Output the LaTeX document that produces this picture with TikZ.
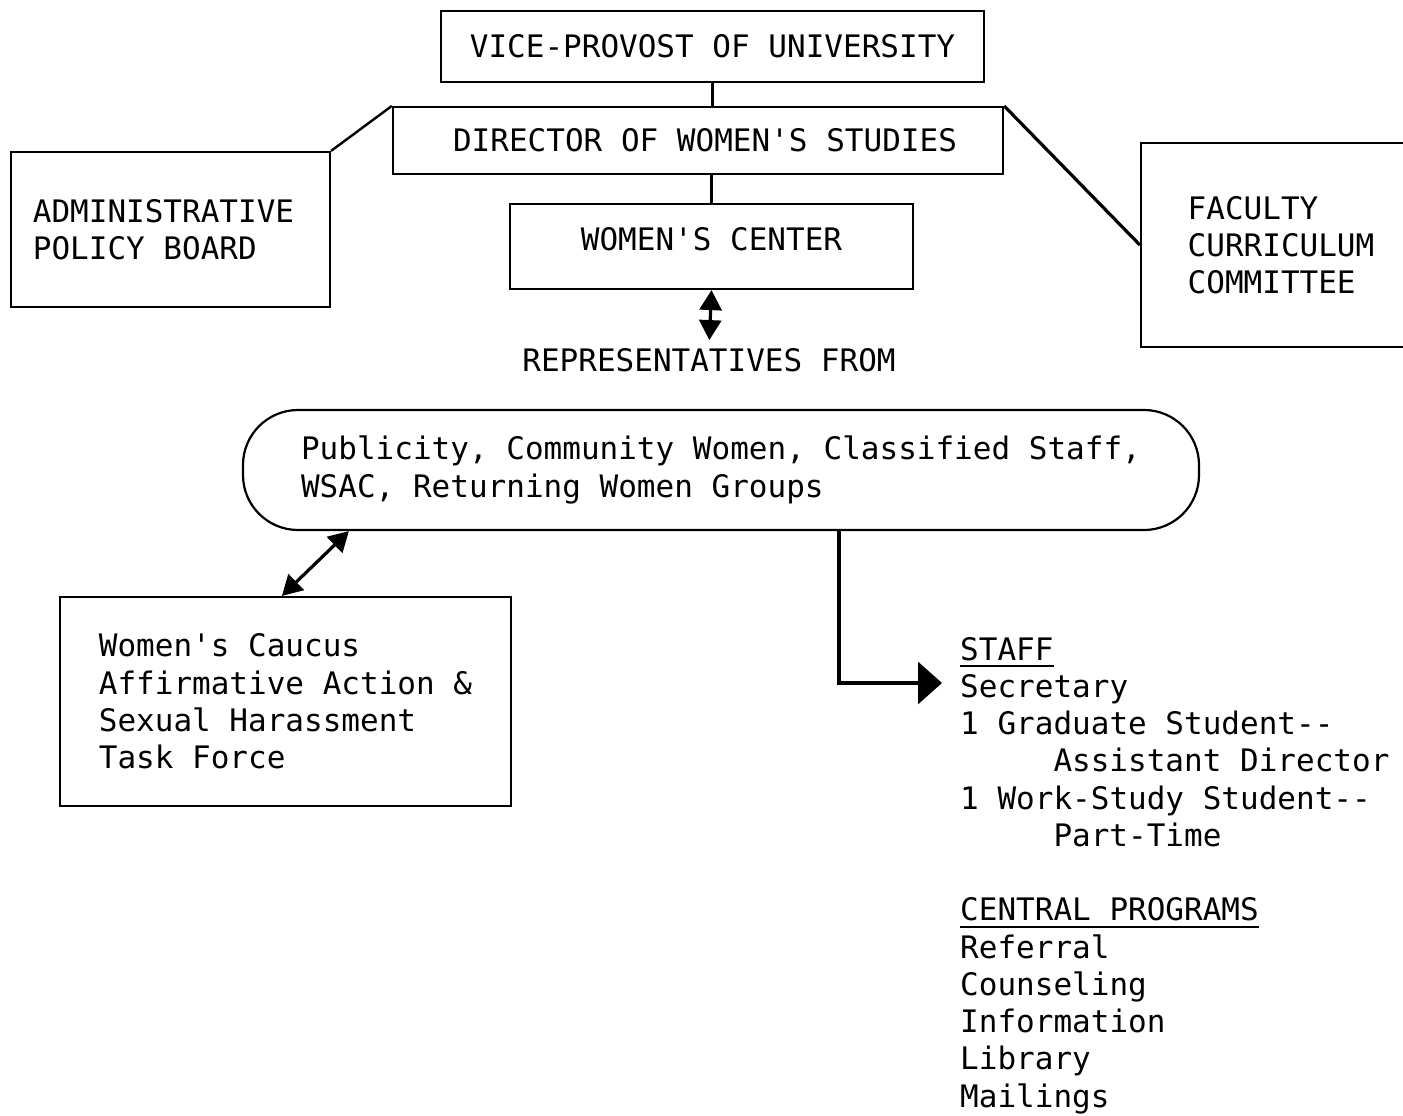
\documentclass[tikz,border=0pt]{standalone}
\usepackage{fontspec}
\setmonofont{DejaVu Sans Mono}
\usetikzlibrary{arrows.meta}
% typewriter-style underline, a little below the baseline
\newcommand\typeul[1]{\setbox0\hbox{#1}\rlap{\rule[-7pt]{\wd0}{2pt}}\box0}
\begin{document}
\begin{tikzpicture}[x=1pt,y=-1pt,
  every node/.style={font=\ttfamily\fontsize{31}{37.25}\selectfont, inner sep=0pt},
  box/.style={draw, line width=2.2pt, rectangle},
  link/.style={line width=3.2pt},
  smalltip/.tip={Triangle[length=20pt,width=22pt]},
  bigtip/.tip={Triangle[length=24pt,width=42pt]},
]
\fill[white] (0,0) rectangle (1403,1116);
\useasboundingbox (0,0) rectangle (1403,1116);

% hierarchy boxes
\node[box, minimum width=543, minimum height=71] (vp) at (712.5,46.5) {VICE-PROVOST OF UNIVERSITY};
\node[box, minimum width=610, minimum height=67] (dir) at (698,140.5) {\hspace*{14pt}DIRECTOR OF WOMEN'S STUDIES};
\node[box, minimum width=403, minimum height=85, text depth=15pt] (wc) at (711.5,246.5) {WOMEN'S CENTER};
\node[box, minimum width=319, minimum height=155, align=left] (apb) at (170.5,229.5) {ADMINISTRATIVE\hspace*{14pt}\\POLICY BOARD};
\node[box, minimum width=280, minimum height=204, align=left] (fcc) at (1281,245) {FACULTY\\CURRICULUM\\COMMITTEE};

\draw[link] (vp.south) -- (vp.south |- dir.north);
\draw[link] (dir.south -| wc.north) -- (wc.north);
\draw[link, line width=2.4pt] (apb.north east) -- (dir.north west);
\draw[link] (dir.north east) -- (fcc.west);

% representatives
\node (rep) at (709,360) {REPRESENTATIVES FROM};
\draw[link, smalltip-smalltip, shorten >=8pt] (wc.south) -- (rep.north);

\node[box, rounded corners=55pt, minimum width=956, minimum height=120, align=left] (groups) at (721,470)
  {Publicity, Community Women, Classified Staff,\\WSAC, Returning Women Groups};

\node[box, minimum width=451, minimum height=209, align=left] (caucus) at (285.5,701.5)
  {Women's Caucus\\Affirmative Action \&\\Sexual Harassment\\Task Force};

\draw[link, smalltip-smalltip] ([xshift=107pt]groups.south west) -- ([xshift=223pt]caucus.north west);

% staff and programs
\node[anchor=north west, align=left] (staff) at (960,637) {%
\typeul{STAFF}\\
Secretary\\
1 Graduate Student--\\
\hspace*{93.3pt}Assistant Director\\
1 Work-Study Student--\\
\hspace*{93.3pt}Part-Time\\[37.25pt]
\typeul{CENTRAL PROGRAMS}\\
Referral\\
Counseling\\
Information\\
Library\\
Mailings};
\coordinate (staffin) at (942,683);
\draw[link, -bigtip] ([xshift=597pt]groups.south west) |- (staffin);
\end{tikzpicture}
\end{document}
